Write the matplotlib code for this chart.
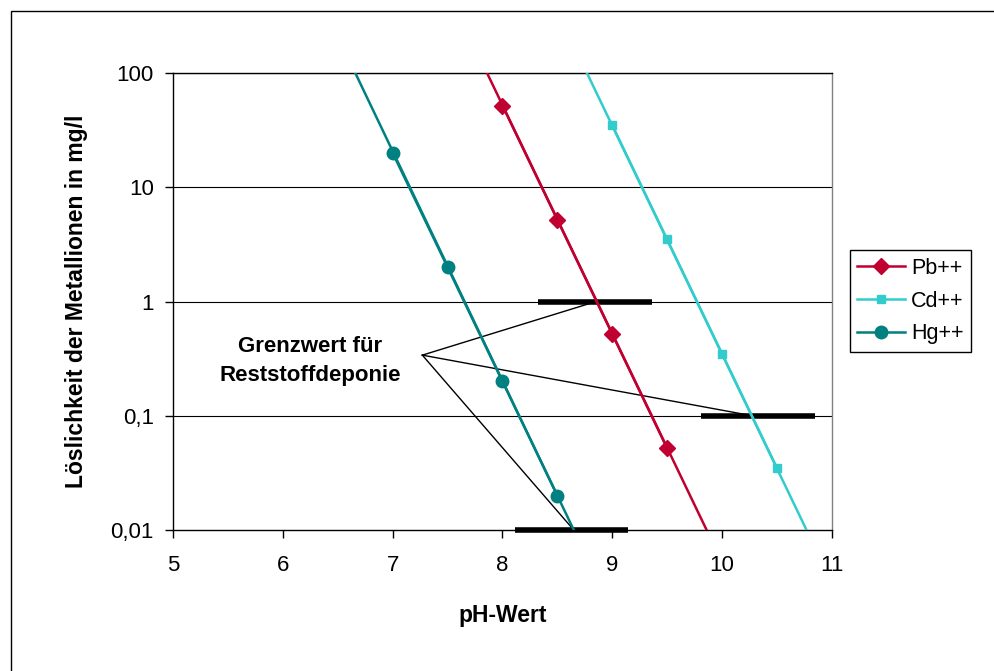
import matplotlib.pyplot as plt
from matplotlib.patches import Rectangle

plt.rcParams["font.family"] = ["Liberation Sans", "DejaVu Sans"]

# measured points (pH, solubility mg/l)
marker_ph = {
    "Pb++": [8.0, 8.5, 9.0, 9.5],
    "Cd++": [9.0, 9.5, 10.0, 10.5],
    "Hg++": [7.0, 7.5, 8.0, 8.5],
}
pb_vals = [52, 5.2, 0.52, 0.052]
cd_vals = [35, 3.5, 0.35, 0.035]
hg_vals = [20, 2.0, 0.2, 0.02]

# extended trend lines at y=100 and y=0.01
pb_line_ph = [7.86, 9.86]
cd_line_ph = [8.77, 10.77]
hg_line_ph = [6.66, 8.65]
line_vals = [100, 0.01]

# limit values for landfill (Grenzwert) as thick bars
limit_vals = [1.0, 0.1, 0.01]
limit_start = [8.32, 9.81, 8.11]
limit_end = [9.36, 10.85, 9.14]
limit_hit_ph = [8.85, 10.28, 8.65]
label_apex = (7.27, 0.34)

x_ticks = [5, 6, 7, 8, 9, 10, 11]
y_ticks = [0.01, 0.1, 1, 10, 100]
y_ticklabels = ["0,01", "0,1", "1", "10", "100"]

pb_col = "#C00030"
cd_col = "#33CCCC"
hg_col = "#008080"

fig = plt.figure(figsize=(9.95, 6.71), dpi=100)
ax = fig.add_axes([0.174, 0.210, 0.662, 0.681])

for y in y_ticks[1:]:
    ax.axhline(y, color="black", lw=0.8, zorder=1)

ax.plot(pb_line_ph, line_vals, color=pb_col, lw=1.8, zorder=3)
ax.plot(cd_line_ph, line_vals, color=cd_col, lw=1.8, zorder=3)
ax.plot(hg_line_ph, line_vals, color=hg_col, lw=1.8, zorder=3)
ax.plot(marker_ph["Pb++"], pb_vals, color=pb_col, lw=1.8, marker="D", ms=8, label="Pb++", zorder=4)
ax.plot(marker_ph["Cd++"], cd_vals, color=cd_col, lw=1.8, marker="s", ms=6, label="Cd++", zorder=4)
ax.plot(marker_ph["Hg++"], hg_vals, color=hg_col, lw=1.8, marker="o", ms=9, label="Hg++", zorder=4)

for v, a, b, h in zip(limit_vals, limit_start, limit_end, limit_hit_ph):
    ax.plot([a, b], [v, v], color="black", lw=4, solid_capstyle="butt", zorder=2, clip_on=False)
    ax.plot([label_apex[0], h], [label_apex[1], v], color="black", lw=1, zorder=2)

ax.text(6.25, 0.30, "Grenzwert für\nReststoffdeponie", ha="center", va="center",
        fontsize=16, fontweight="bold", linespacing=1.5)

ax.set_yscale("log")
ax.set_xlim(5, 11)
ax.set_ylim(0.01, 100)
ax.set_xticks(x_ticks)
ax.set_xticklabels([str(t) for t in x_ticks])
ax.set_yticks(y_ticks)
ax.set_yticklabels(y_ticklabels)
ax.minorticks_off()
ax.tick_params(axis="both", direction="out", length=6, width=1, labelsize=16)
ax.tick_params(axis="x", pad=12)
ax.tick_params(axis="y", pad=8)
for s in ax.spines.values():
    s.set_linewidth(1)
ax.spines["right"].set_color("#808080")

ax.set_xlabel("pH-Wert", fontsize=16.5, fontweight="bold", labelpad=20)
ax.set_ylabel("Löslichkeit der Metallionen in mg/l", fontsize=16.5, fontweight="bold", labelpad=16)

leg = fig.legend(loc="upper left", bbox_to_anchor=(0.854, 0.627), fontsize=15.5,
                 fancybox=False, edgecolor="black", framealpha=1, borderpad=0.35,
                 handlelength=2.2, handletextpad=0.3, labelspacing=0.55, borderaxespad=0)
leg.get_frame().set_linewidth(1)

fig.patches.append(Rectangle((11 / 995, -0.1), 1.2, 1.1 - 11 / 671, transform=fig.transFigure,
                             fill=False, edgecolor="black", lw=1))

fig.savefig("out.png", dpi=100)
